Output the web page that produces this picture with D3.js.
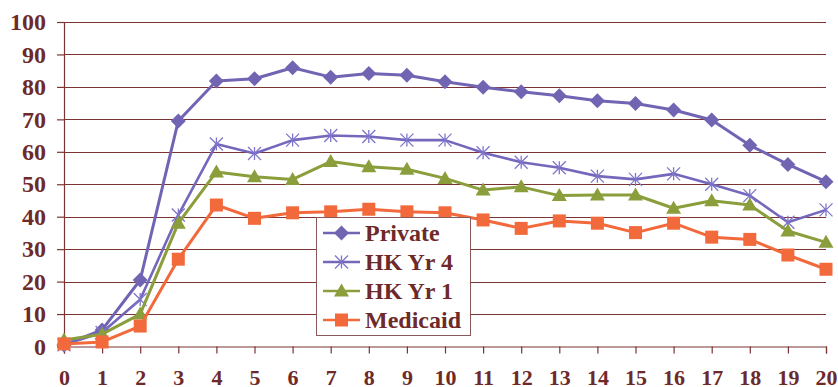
<!DOCTYPE html>
<html>
<head>
<meta charset="utf-8">
<script src="https://cdn.jsdelivr.net/npm/d3@7"></script>
<style>
  html, body { margin: 0; padding: 0; background: #fff; }
  svg { display: block; }
  text { font-family: "Liberation Serif", "Times New Roman", serif; font-weight: bold; fill: #6E2A2A; }
</style>
</head>
<body>
<svg id="chart" width="838" height="387"></svg>
<script>
// Years on the x axis
const years = d3.range(0, 21);
const yTicks = [0, 10, 20, 30, 40, 50, 60, 70, 80, 90, 100];

// Series values, one per year
const privateVals  = [0.5, 5.1, 20.5, 69.5, 81.8, 82.5, 85.9, 83.0, 84.1, 83.6, 81.6, 79.9, 78.5, 77.3, 75.7, 74.9, 72.9, 69.8, 62.0, 56.1, 50.8];
const hkYr4Vals    = [0.5, 4.3, 14.5, 40.5, 62.4, 59.5, 63.6, 65.0, 64.7, 63.6, 63.6, 59.7, 56.8, 55.1, 52.5, 51.5, 53.2, 50.0, 46.5, 38.3, 42.1];
const hkYr1Vals    = [2.0, 3.8, 10.0, 38.0, 53.8, 52.3, 51.5, 57.0, 55.4, 54.6, 51.8, 48.2, 49.2, 46.5, 46.7, 46.7, 42.6, 44.9, 43.6, 35.6, 32.1];
const medicaidVals = [0.8, 1.4, 6.3, 26.9, 43.6, 39.5, 41.2, 41.5, 42.3, 41.5, 41.2, 39.0, 36.4, 38.7, 38.0, 35.1, 38.0, 33.7, 33.0, 28.2, 23.8];

const seriesNames = ["Private", "HK Yr 4", "HK Yr 1", "Medicaid"];
const seriesColors = ["#7165B3", "#7467BC", "#8A9E3C", "#F26A3C"];
const seriesMarkers = ["diamond", "star", "triangle", "square"];
const seriesValues = [privateVals, hkYr4Vals, hkYr1Vals, medicaidVals];

const axisColor = "#7A3434";
const svg = d3.select("#chart");

const x = d3.scaleLinear().domain([0, 20]).range([64, 826]);
const y = d3.scaleLinear().domain([0, 100]).range([346.5, 22]);

// Horizontal gridlines
svg.append("g")
  .selectAll("line")
  .data(yTicks.filter(d => d > 0))
  .join("line")
  .attr("x1", x(0)).attr("x2", x(20))
  .attr("y1", d => Math.round(y(d)) + 0.5).attr("y2", d => Math.round(y(d)) + 0.5)
  .attr("stroke", axisColor).attr("stroke-width", 1.2);

// Y axis
const yAxis = svg.append("g")
  .attr("transform", `translate(${x(0)},0)`)
  .call(d3.axisLeft(y).tickValues(yTicks).tickSize(7).tickPadding(11).tickFormat(d3.format("d")));
yAxis.select(".domain").attr("stroke", axisColor).attr("stroke-width", 1.2);
yAxis.selectAll(".tick line").attr("stroke", axisColor).attr("stroke-width", 1.2);
yAxis.selectAll(".tick text")
  .attr("font-size", 24).attr("fill", "#6E2A2A")
  .attr("font-family", "Liberation Serif, serif").attr("font-weight", "bold");

// X axis
const xAxis = svg.append("g")
  .attr("transform", `translate(0,${y(0)})`)
  .call(d3.axisBottom(x).tickValues(years).tickSize(7).tickPadding(16).tickFormat(d3.format("d")));
xAxis.select(".domain").attr("stroke", axisColor).attr("stroke-width", 1.2);
xAxis.selectAll(".tick line").attr("stroke", axisColor).attr("stroke-width", 1.2);
xAxis.selectAll(".tick text")
  .attr("font-size", 22).attr("fill", "#6E2A2A")
  .attr("font-family", "Liberation Serif, serif").attr("font-weight", "bold");

// Marker drawing
function drawMarker(g, type, color, cx, cy) {
  if (type === "diamond") {
    g.append("path")
      .attr("d", `M${cx},${cy - 7.5}L${cx + 7.5},${cy}L${cx},${cy + 7.5}L${cx - 7.5},${cy}Z`)
      .attr("fill", color);
  } else if (type === "square") {
    g.append("rect")
      .attr("x", cx - 6.5).attr("y", cy - 6.5).attr("width", 13).attr("height", 13)
      .attr("fill", color);
  } else if (type === "triangle") {
    g.append("path")
      .attr("d", `M${cx},${cy - 7.5}L${cx + 7.5},${cy + 5.5}L${cx - 7.5},${cy + 5.5}Z`)
      .attr("fill", color);
  } else if (type === "star") {
    const r = 6.5;
    g.append("path")
      .attr("d", `M${cx},${cy - r}L${cx},${cy + r}M${cx - r},${cy - r}L${cx + r},${cy + r}M${cx - r},${cy + r}L${cx + r},${cy - r}`)
      .attr("stroke", "#7E76CC").attr("stroke-width", 1.3).attr("fill", "none");
  }
}

const line = d3.line().x((d, i) => x(years[i])).y(d => y(d));

// Series lines and markers
seriesValues.forEach((vals, si) => {
  const g = svg.append("g");
  g.append("path")
    .datum(vals)
    .attr("d", line)
    .attr("fill", "none")
    .attr("stroke", seriesColors[si])
    .attr("stroke-width", si === 1 ? 2.6 : 3)
    .attr("stroke-linejoin", "round");
  vals.forEach((v, i) => drawMarker(g, seriesMarkers[si], seriesColors[si], x(years[i]), y(v)));
});

// Legend
const legend = svg.append("g");
legend.append("rect")
  .attr("x", 316.5).attr("y", 217.5).attr("width", 154).attr("height", 118)
  .attr("fill", "#fff").attr("stroke", "#8A5A5A").attr("stroke-width", 1);
seriesNames.forEach((name, i) => {
  const cy = 233 + i * 29;
  legend.append("line")
    .attr("x1", 323).attr("x2", 360).attr("y1", cy).attr("y2", cy)
    .attr("stroke", seriesColors[i]).attr("stroke-width", 2.6);
  drawMarker(legend, seriesMarkers[i], seriesColors[i], 341.5, cy);
  legend.append("text")
    .attr("x", 365).attr("y", cy + 8)
    .attr("font-size", 24)
    .text(name);
});
</script>
</body>
</html>
